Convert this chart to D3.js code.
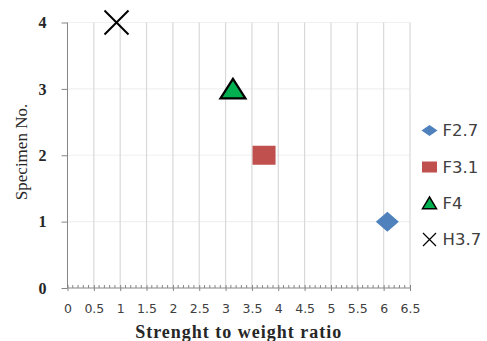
<!DOCTYPE html>
<html><head><meta charset="utf-8">
<script src="https://cdn.jsdelivr.net/npm/d3@7"></script>
<style>body{margin:0;background:#fff}</style>
</head><body>
<svg id="c" width="487" height="341"></svg>
<script>
const seriesNames = ["F2.7","F3.1","F4","H3.7"];
const strengthRatio = [6.07, 3.73, 3.14, 0.93];
const specimenNo = [1, 2, 3, 4];
const xTicks = [0,0.5,1,1.5,2,2.5,3,3.5,4,4.5,5,5.5,6,6.5];
const yTicks = [0,1,2,3,4];

const svg = d3.select("#c");
const x = d3.scaleLinear().domain([0,6.5]).range([67.5,410]);
const y = d3.scaleLinear().domain([0,4]).range([288,22.5]);

// horizontal grid
svg.append("g").selectAll("line").data(yTicks.slice(1)).join("line")
  .attr("x1",x(0)).attr("x2",x(6.5)).attr("y1",d=>y(d)).attr("y2",d=>y(d))
  .attr("stroke","#f0f0f0").attr("stroke-width",1.2);
// vertical grid
svg.append("g").selectAll("line").data(xTicks.slice(1)).join("line")
  .attr("x1",d=>x(d)).attr("x2",d=>x(d)).attr("y1",y(0)).attr("y2",y(4))
  .attr("stroke","#d9d9d9").attr("stroke-width",1.2);

// x axis
const xAxis = d3.axisBottom(x).tickValues(xTicks).tickSize(3).tickFormat(d3.format("~g"));
const gx = svg.append("g").attr("transform",`translate(0,${y(0)})`).call(xAxis);
gx.select(".domain").attr("stroke","#868686").attr("d",`M${x(0)},0H${x(6.5)}`);
gx.selectAll(".tick line").attr("stroke","#868686").attr("y1",-3).attr("y2",3);
gx.selectAll(".tick text").attr("font-family","DejaVu Sans").attr("font-size",12.5)
  .attr("fill","#404040").attr("dy","0.71em").attr("y",16);
// minor ticks
const minor = d3.range(0,65).filter(i=>i%5!==0).map(i=>i/10);
svg.append("g").selectAll("line").data(minor).join("line")
  .attr("x1",d=>x(d)).attr("x2",d=>x(d)).attr("y1",y(0)-3).attr("y2",y(0))
  .attr("stroke","#868686").attr("stroke-width",1);

// y axis
const yAxis = d3.axisLeft(y).tickValues(yTicks).tickSize(6).tickFormat(d3.format("d"));
const gy = svg.append("g").attr("transform",`translate(${x(0)},0)`).call(yAxis);
gy.select(".domain").attr("stroke","#868686").attr("d",`M0,${y(4)}V${y(0)}`);
gy.selectAll(".tick line").attr("stroke","#868686");
gy.selectAll(".tick text").attr("font-family","Liberation Serif").attr("font-weight","bold")
  .attr("font-size",16).attr("fill","#262626").attr("x",-21);

// titles
svg.append("text").attr("x",(x(0)+x(6.5))/2).attr("y",338).attr("text-anchor","middle")
  .attr("font-family","Liberation Serif").attr("font-weight","bold").attr("font-size",18)
  .attr("letter-spacing",1).attr("fill","#262626").text("Strenght to weight ratio");
svg.append("text").attr("transform",`translate(27,152) rotate(-90)`)
  .attr("text-anchor","middle").attr("font-family","Liberation Serif").attr("font-size",17)
  .attr("fill","#262626").text("Specimen No.");

// marker shapes (w = half width, h = half height)
function shape(i, w, h, sw){
  const g = d3.create("svg:g");
  if(i===0){ g.append("path").attr("d",`M0,${-h}L${w},0L0,${h}L${-w},0Z`).attr("fill","#4f81bd"); }
  else if(i===1){ g.append("rect").attr("x",-w).attr("y",-h).attr("width",2*w).attr("height",2*h).attr("fill","#c0504d"); }
  else if(i===2){ g.append("path").attr("d",`M0,${-h}L${w},${h*0.95}L${-w},${h*0.95}Z`).attr("fill","#00b050").attr("stroke","#000").attr("stroke-width",sw); }
  else { g.append("path").attr("d",`M${-w},${-h}L${w},${h}M${w},${-h}L${-w},${h}`).attr("stroke","#000").attr("stroke-width",sw); }
  return g.node();
}
const bigSize = [[11.5,10],[11.5,9.5],[12.5,10],[12,12]];
const legSize = [[8,5.5],[7.5,5.5],[7,6],[6.5,6.5]];

const pts = svg.append("g").selectAll("g").data(seriesNames).join("g")
  .attr("transform",(d,i)=>`translate(${x(strengthRatio[i])},${y(specimenNo[i])})`);
pts.each(function(d,i){ this.appendChild(shape(i,bigSize[i][0],bigSize[i][1],i===2?2.2:2)); });

// legend
const legY = [130.5,167,203,239.5];
const leg = svg.append("g").selectAll("g").data(seriesNames).join("g")
  .attr("transform",(d,i)=>`translate(429.5,${legY[i]})`);
leg.each(function(d,i){ this.appendChild(shape(i,legSize[i][0],legSize[i][1],i===2?1.5:1.2)); });
leg.append("text").attr("x",13).attr("dy","0.36em").attr("font-family","DejaVu Sans")
  .attr("font-size",16.5).attr("fill","#404040").text(d=>d);
</script>
</body></html>
